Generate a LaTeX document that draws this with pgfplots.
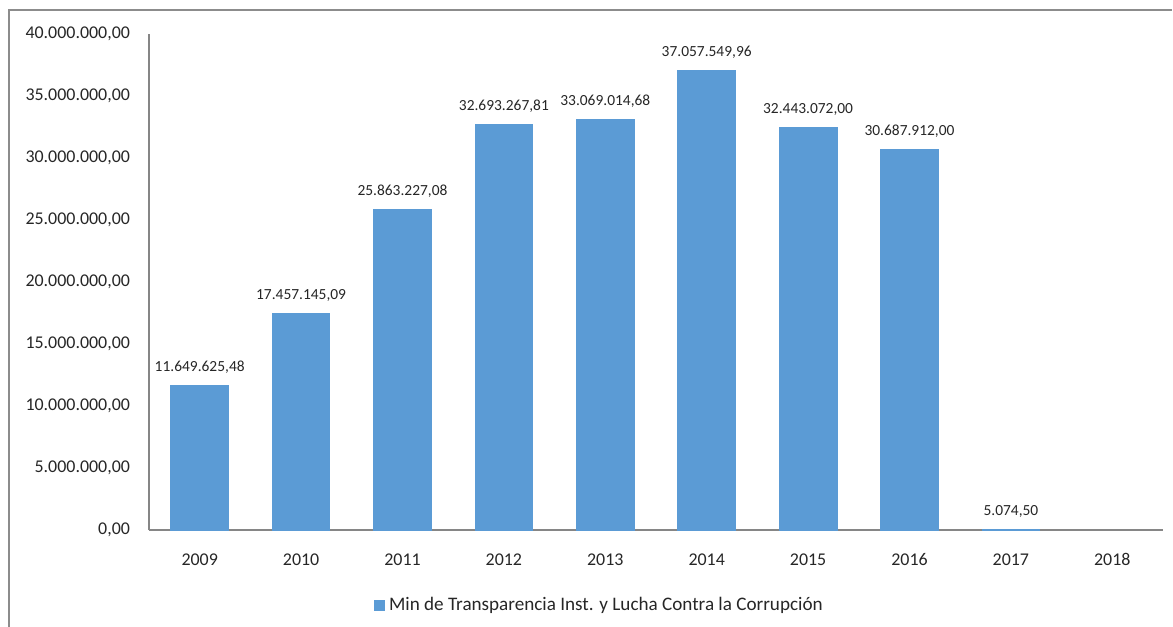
\documentclass[border=0pt]{standalone}
\usepackage{pgfplots}
\pgfplotsset{compat=1.18}
\usepackage{pgfplotstable}
\usepackage{fontspec}
\setmainfont{Carlito}
\definecolor{barblue}{HTML}{5B9BD5}
\definecolor{axgray}{HTML}{868686}
\definecolor{framegray}{HTML}{8C8C8C}
\pgfplotstableread{
x y label
0 11649625.48 11.649.625,48
1 17457145.09 17.457.145,09
2 25863227.08 25.863.227,08
3 32693267.81 32.693.267,81
4 33069014.68 33.069.014,68
5 37057549.96 37.057.549,96
6 32443072.00 32.443.072,00
7 30687912.00 30.687.912,00
8 5074.50 5.074,50
}\datatable
\begin{document}
\begin{tikzpicture}
\useasboundingbox (0,0) rectangle (586.5bp,313.5bp);
\draw[framegray, line width=0.8bp] (4.5bp,-2bp) -- (4.5bp,308.5bp) -- (586bp,308.5bp);
\begin{axis}[
  at={(74.5bp,48.5bp)}, anchor=south west,
  scale only axis, width=507bp, height=248bp,
  xmin=-0.5, xmax=9.5, ymin=0, ymax=40000000,
  axis x line*=bottom, axis y line*=left,
  axis line style={axgray, line width=0.6bp},
  major tick length=0pt,
  xtick={0,...,9},
  xticklabels={2009,2010,2011,2012,2013,2014,2015,2016,2017,2018},
  ytick={0,5000000,10000000,15000000,20000000,25000000,30000000,35000000,40000000},
  yticklabels={{0,00},{5.000.000,00},{10.000.000,00},{15.000.000,00},{20.000.000,00},{25.000.000,00},{30.000.000,00},{35.000.000,00},{40.000.000,00}},
  tick label style={font=\fontsize{9}{10.8}\selectfont, text=black!85},
  yticklabel style={xshift=-6bp},
  xticklabel style={yshift=-7.5bp, text height=6.6bp, text depth=0pt},
  scaled y ticks=false,
  ybar, bar width=0.57,
  nodes near coords,
  point meta=explicit symbolic,
  nodes near coords style={font=\fontsize{7.75}{9}\selectfont, text=black!85, anchor=south, yshift=2.5bp},
  legend style={at={(0.445,-0.152)}, anchor=center, draw=none, fill=none,
    font=\fontsize{9.6}{11.5}\selectfont, text=black!85},
  legend image code/.code={\fill[barblue] (0bp,-2.6bp) rectangle (5.2bp,2.6bp);},
  clip=false,
]
\addplot[fill=barblue, draw=barblue, line width=0.5bp] table[x=x, y=y, meta=label] {\datatable};
\addlegendentry{Min de Transparencia Inst. y Lucha Contra la Corrupción}
\end{axis}
\end{tikzpicture}
\end{document}
